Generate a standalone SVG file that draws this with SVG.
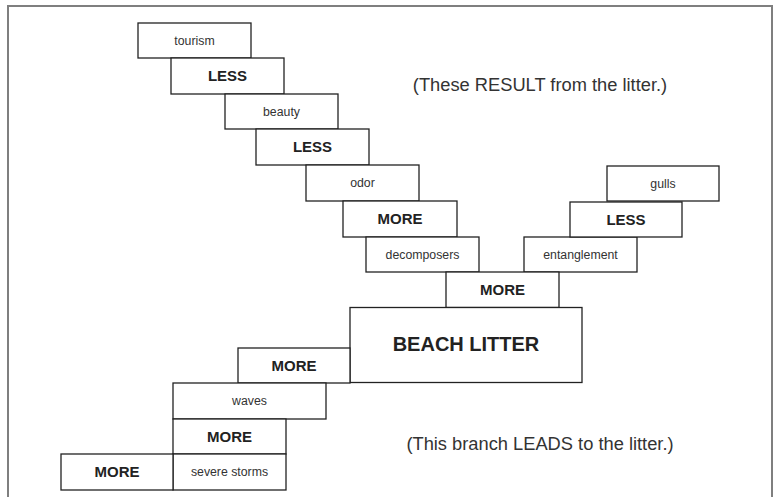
<svg xmlns="http://www.w3.org/2000/svg" width="774" height="497" viewBox="0 0 774 497">
<style>
.b{fill:#fff;stroke:#222;stroke-width:1.3}
.s{font-family:"Liberation Sans",Arial,sans-serif;font-size:12.3px;fill:#333;text-anchor:middle}
.k{font-family:"Liberation Sans",Arial,sans-serif;font-size:15px;font-weight:bold;fill:#222;text-anchor:middle}
.n{font-family:"Liberation Sans",Arial,sans-serif;font-size:18.3px;fill:#333;text-anchor:middle}
</style>
<rect x="0" y="0" width="774" height="497" fill="#fff"/>
<rect x="8" y="6" width="764" height="500" fill="none" stroke="#7f7f7f" stroke-width="2"/>
<g id="connectors"></g>
<g id="n-tourism"><rect class="b" x="138" y="23" width="113" height="35"/><text class="s" x="194.5" y="44.5">tourism</text></g>
<g id="n-less1"><rect class="b" x="171" y="58" width="113" height="36"/><text class="k" x="227.5" y="81">LESS</text></g>
<g id="n-beauty"><rect class="b" x="225" y="94" width="113" height="35"/><text class="s" x="281.5" y="115.5">beauty</text></g>
<g id="n-less2"><rect class="b" x="256" y="129" width="113" height="36"/><text class="k" x="312.5" y="152">LESS</text></g>
<g id="n-odor"><rect class="b" x="306" y="165" width="113" height="36"/><text class="s" x="362.5" y="187">odor</text></g>
<g id="n-more1"><rect class="b" x="343" y="201" width="114" height="36"/><text class="k" x="400" y="224">MORE</text></g>
<g id="n-decomposers"><rect class="b" x="366" y="237" width="113" height="35"/><text class="s" x="422.5" y="258.5">decomposers</text></g>
<g id="n-entanglement"><rect class="b" x="524" y="237" width="113" height="35"/><text class="s" x="580.5" y="258.5">entanglement</text></g>
<g id="n-less3"><rect class="b" x="570" y="202" width="112" height="35"/><text class="k" x="626" y="224.5">LESS</text></g>
<g id="n-gulls"><rect class="b" x="607" y="166" width="112" height="35"/><text class="s" x="663" y="187.5">gulls</text></g>
<g id="n-more2"><rect class="b" x="446" y="272" width="113" height="35.5"/><text class="k" x="502.5" y="295">MORE</text></g>
<g id="n-beach"><rect class="b" x="350" y="307.5" width="232" height="75"/><text class="k" x="466" y="351" style="font-size:20px">BEACH LITTER</text></g>
<g id="n-more3"><rect class="b" x="238" y="348" width="112" height="35"/><text class="k" x="294" y="370.5">MORE</text></g>
<g id="n-waves"><rect class="b" x="173" y="383" width="153" height="36"/><text class="s" x="249.5" y="405">waves</text></g>
<g id="n-more4"><rect class="b" x="173" y="419" width="113" height="35"/><text class="k" x="229.5" y="441.5">MORE</text></g>
<g id="n-storms"><rect class="b" x="173" y="454" width="113" height="36"/><text class="s" x="229.5" y="476">severe storms</text></g>
<g id="n-more5"><rect class="b" x="61" y="454" width="112" height="36"/><text class="k" x="117" y="477">MORE</text></g>
<text class="n" x="540" y="91">(These RESULT from the litter.)</text>
<text class="n" x="540" y="450">(This branch LEADS to the litter.)</text>
</svg>
